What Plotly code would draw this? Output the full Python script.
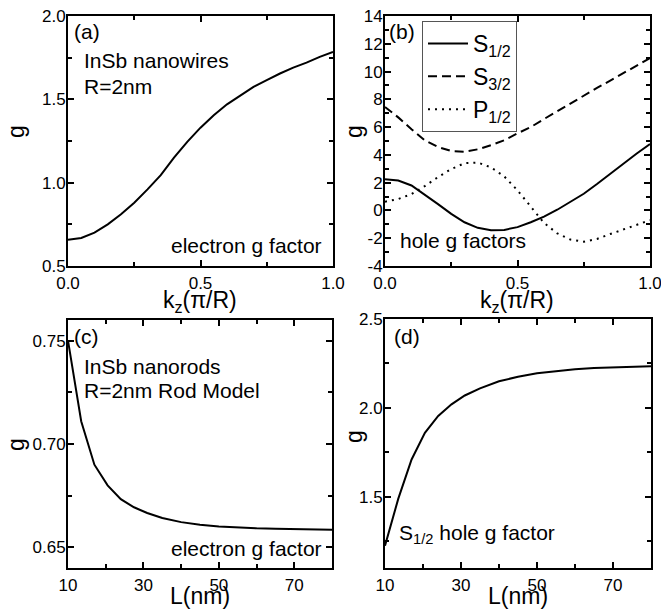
import plotly.graph_objects as go

W, H = 661, 615

# ---------------- data ----------------
kz = [0.00, 0.05, 0.10, 0.15, 0.20, 0.25, 0.30, 0.35, 0.40, 0.45, 0.50,
      0.55, 0.60, 0.65, 0.70, 0.75, 0.80, 0.85, 0.90, 0.95, 1.00]

g_electron_wire = [0.658, 0.668, 0.70, 0.75, 0.81, 0.88, 0.96, 1.045, 1.15, 1.245, 1.33,
                   1.405, 1.47, 1.525, 1.575, 1.615, 1.655, 1.69, 1.72, 1.755, 1.785]

g_S12 = [2.25, 2.15, 1.80, 1.15, 0.45, -0.25, -0.85, -1.25, -1.42, -1.40, -1.20,
         -0.85, -0.45, 0.05, 0.60, 1.20, 1.90, 2.65, 3.40, 4.10, 4.78]

g_S32 = [7.45, 6.70, 5.85, 5.05, 4.57, 4.28, 4.23, 4.40, 4.70, 5.05, 5.55,
         6.00, 6.58, 7.15, 7.72, 8.28, 8.82, 9.35, 9.88, 10.42, 10.97]

g_P12 = [0.63, 0.82, 1.18, 1.75, 2.40, 2.98, 3.40, 3.45, 3.10, 2.45, 1.45,
         0.28, -0.90, -1.65, -2.10, -2.25, -2.05, -1.70, -1.35, -1.02, -0.70]

L_nm = [10, 13.5, 17, 20.5, 24, 27.5, 31, 35, 40, 45, 50, 55, 60, 65, 70, 75, 80]

g_electron_rod = [0.750, 0.711, 0.690, 0.680, 0.6733, 0.6694, 0.6666, 0.6642, 0.6622,
                  0.6609, 0.6601, 0.6595, 0.6592, 0.6590, 0.6588, 0.6587, 0.6585]

g_hole_rod = [1.225, 1.49, 1.71, 1.86, 1.955, 2.02, 2.07, 2.11, 2.15, 2.175, 2.195,
              2.208, 2.217, 2.224, 2.229, 2.232, 2.235]

series_names = ["S<sub>1/2</sub>", "S<sub>3/2</sub>", "P<sub>1/2</sub>"]

yb_tickvals = [-4, -2, 0, 2, 4, 6, 8, 10, 12, 14]
yb_ticktext = ["-4", "-2", "0", "2", "4", "6", "8", "10", "12", "14"]

# ---------------- helpers ----------------
FONT = "Liberation Sans, Arial, sans-serif"


def px_x(x):
    return x / W


def px_y(y):
    return 1 - y / H


def axis_common(kind, **kw):
    d = dict(
        showline=True, linecolor="black", linewidth=2, mirror="allticks",
        ticks="inside", ticklen=6, tickwidth=1.5, tickcolor="black",
        showgrid=False, zeroline=False, automargin=False,
        tickfont=dict(family=FONT, size=17, color="black"),
        ticklabelstandoff=(1 if kind == "x" else -3),
        ticklabeloverflow="allow",
        minor=dict(ticks="inside", ticklen=4, tickwidth=1.5, tickcolor="black", showgrid=False),
    )
    d.update(kw)
    return d


fig = go.Figure()

line = dict(color="black", width=2)

fig.add_trace(go.Scatter(x=kz, y=g_electron_wire, mode="lines", line=line,
                         xaxis="x", yaxis="y", showlegend=False))
fig.add_trace(go.Scatter(x=kz, y=g_S12, mode="lines", line=dict(color="black", width=2),
                         name=series_names[0], xaxis="x2", yaxis="y2"))
fig.add_trace(go.Scatter(x=kz, y=g_S32, mode="lines",
                         line=dict(color="black", width=2, dash="9px,5px"),
                         name=series_names[1], xaxis="x2", yaxis="y2"))
fig.add_trace(go.Scatter(x=kz, y=g_P12, mode="lines",
                         line=dict(color="black", width=2, dash="2px,5px"),
                         name=series_names[2], xaxis="x2", yaxis="y2"))
fig.add_trace(go.Scatter(x=L_nm, y=g_electron_rod, mode="lines", line=line,
                         xaxis="x3", yaxis="y3", showlegend=False))
fig.add_trace(go.Scatter(x=L_nm, y=g_hole_rod, mode="lines", line=line,
                         xaxis="x4", yaxis="y4", showlegend=False))

dom = {
    "a": ((68, 333), (16, 266)),
    "b": ((385, 650), (16, 266)),
    "c": ((68, 332), (320, 568)),
    "d": ((385, 651), (319, 568)),
}


def xd(k):
    (x0, x1), _ = dom[k]
    return [px_x(x0), px_x(x1)]


def yd(k):
    _, (y0, y1) = dom[k]
    return [px_y(y1), px_y(y0)]


layout = dict(
    width=W, height=H,
    margin=dict(l=0, r=0, t=0, b=0),
    paper_bgcolor="white", plot_bgcolor="white",
    font=dict(family=FONT, color="black"),
    xaxis=axis_common("x", domain=xd("a"), range=[0, 1], dtick=0.5, tick0=0, tickformat=".1f",
                      anchor="y", minor_dtick=0.25),
    yaxis=axis_common("y", domain=yd("a"), range=[0.5, 2.0], dtick=0.5, tick0=0.5, tickformat=".1f",
                      anchor="x", minor_dtick=0.25),
    xaxis2=axis_common("x", domain=xd("b"), range=[0, 1], dtick=0.5, tick0=0, tickformat=".1f",
                       anchor="y2", minor_dtick=0.25),
    yaxis2=axis_common("y", domain=yd("b"), range=[-4, 14], tickmode="array",
                       tickvals=yb_tickvals, ticktext=yb_ticktext,
                       anchor="x2", minor=dict(ticks="inside", ticklen=4, tickwidth=1.5,
                                               tickcolor="black", dtick=1, tick0=0)),
    xaxis3=axis_common("x", domain=xd("c"), range=[10, 80], dtick=20, tick0=10,
                       anchor="y3", minor_dtick=10),
    yaxis3=axis_common("y", domain=yd("c"), range=[0.64, 0.76], dtick=0.05, tick0=0.65,
                       tickformat=".2f", anchor="x3", minor_dtick=0.025),
    xaxis4=axis_common("x", domain=xd("d"), range=[10, 80], dtick=20, tick0=10,
                       anchor="y4", minor_dtick=10),
    yaxis4=axis_common("y", domain=yd("d"), range=[1.1, 2.5], dtick=0.5, tick0=1.5,
                       tickformat=".1f", anchor="x4", minor_dtick=0.25),
    legend=dict(
        x=px_x(422), y=px_y(21), xanchor="left", yanchor="top",
        bordercolor="#555555", borderwidth=1, bgcolor="rgba(0,0,0,0)",
        font=dict(family=FONT, size=23, color="black"),
        itemwidth=40,
    ),
)
fig.update_layout(**layout)

anns = []


def note(text, x, y, xanchor="left", size=21, angle=0):
    anns.append(dict(text=text, x=px_x(x), y=px_y(y), xref="paper", yref="paper",
                     xanchor=xanchor, yanchor="middle", showarrow=False, textangle=angle,
                     font=dict(family=FONT, size=size, color="black")))


# panel labels and notes
note("(a)", 72, 31)
note("InSb nanowires", 82, 61)
note("R=2nm", 82, 86)
note("electron g factor", 324, 245, xanchor="right")

note("(b)", 387, 31)
note("hole g factors", 398, 240)

note("(c)", 72, 336)
note("InSb nanorods", 82, 366)
note("R=2nm Rod Model", 82, 390)
note("electron g factor", 324, 548, xanchor="right")

note("(d)", 392, 336)
note("S<sub>1/2</sub> hole g factor", 397, 534)

# axis titles
note("g", 16, 132, xanchor="center", size=23, angle=-90)
note("g", 354, 132, xanchor="center", size=23, angle=-90)
note("g", 16, 445, xanchor="center", size=23, angle=-90)
note("g", 354, 437, xanchor="center", size=23, angle=-90)
note("k<sub>z</sub>(π/R)", 200, 301, xanchor="center", size=23)
note("k<sub>z</sub>(π/R)", 517, 301, xanchor="center", size=23)
note("L(nm)", 200, 596, xanchor="center", size=23)
note("L(nm)", 518, 596, xanchor="center", size=23)

fig.update_layout(annotations=anns)

fig.write_html(
    "out.html",
    config={"displayModeBar": False},
    post_script=(
        "document.body.style.margin='0';"
        "document.body.style.overflow='hidden';"
        "document.documentElement.style.overflow='hidden';"
    ),
)
